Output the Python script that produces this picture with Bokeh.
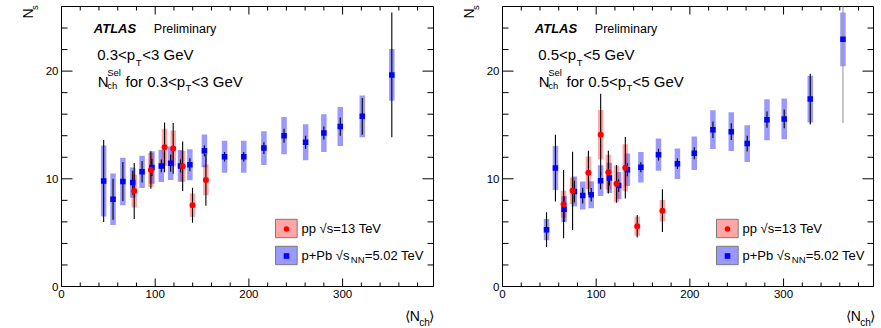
import math
from bokeh.plotting import figure
from bokeh.models import (Range1d, SingleIntervalTicker, Label, GridBox,
                          Legend, LegendItem, ColumnDataSource, BoxAnnotation)
from bokeh.embed import file_html
from bokeh.resources import INLINE

FONT = "Liberation Sans"

# ---------------- data: left panel (0.3<pT<3 GeV) ----------------
l_ppb_x = [45, 55, 65.5, 76, 86, 96.5, 106.5, 116.5, 127, 137, 152.5, 174, 194.5,
           216, 237.5, 260.5, 280, 297.5, 321, 352.5]
l_ppb_y = [9.8, 8.1, 9.75, 9.65, 10.65, 11.05, 11.2, 11.45, 11.2, 11.3, 12.6, 12.05,
           12.05, 12.85, 14.0, 13.4, 14.25, 14.85, 15.8, 19.65]
l_ppb_stat = [3.8, 1.9, 1.8, 1.1, 1.0, 0.8, 0.6, 0.8, 0.6, 0.6, 0.5, 0.45, 0.45,
              0.55, 0.65, 0.6, 0.6, 0.85, 1.7, 5.8]
l_ppb_syst = [3.3, 2.4, 2.2, 1.4, 1.5, 1.5, 1.5, 1.55, 1.47, 1.44, 1.52, 1.48, 1.48,
              1.56, 1.73, 1.67, 1.75, 1.81, 1.93, 2.41]

l_pp_x = [77.6, 95.4, 110, 119.2, 129.3, 139.8, 154.1]
l_pp_y = [8.87, 10.82, 12.92, 12.82, 11.16, 7.54, 9.9]
l_pp_stat = [2.6, 1.75, 2.3, 2.36, 2.3, 1.62, 2.4]
l_pp_syst = [1.53, 1.58, 1.72, 1.66, 1.44, 1.09, 1.42]

# ---------------- data: right panel (0.5<pT<5 GeV) ----------------
r_ppb_x = [47, 56.5, 65.7, 76.7, 85.6, 94.7, 104.7, 114.1, 124, 133.3, 147.7, 166.5,
           186.7, 204.7, 224.6, 244.2, 261.2, 282.3, 300.7, 328.5, 363.4]
r_ppb_y = [5.28, 11.0, 7.18, 8.83, 8.44, 8.52, 9.83, 10.08, 9.37, 10.84, 11.08, 12.24,
           11.4, 12.37, 14.56, 14.38, 13.27, 15.49, 15.56, 17.4, 22.95]
r_ppb_stat = [1.62, 3.1, 1.2, 1.0, 0.74, 0.62, 0.8, 0.7, 0.6, 0.6, 0.46, 0.54, 0.5,
              0.55, 0.77, 0.77, 0.73, 0.76, 0.87, 2.35, 7.76]
r_ppb_syst = [0.99, 2.04, 1.19, 1.39, 1.3, 1.25, 1.42, 1.4, 1.27, 1.5, 1.42, 1.5, 1.42,
              1.55, 1.8, 1.8, 1.7, 1.9, 1.89, 2.16, 2.5]

r_pp_x = [65.2, 74.8, 91.7, 104.8, 113, 121.7, 131.1, 143.8, 170.7]
r_pp_y = [7.64, 8.88, 10.56, 14.1, 10.62, 9.53, 11.02, 5.6, 7.04]
r_pp_stat = [3.17, 3.63, 2.05, 3.8, 1.98, 1.75, 2.86, 1.05, 1.98]
r_pp_syst = [1.24, 1.22, 1.5, 2.3, 1.62, 1.7, 2.18, 0.89, 1.0]

legend_labels = ["pp √s=13 TeV", "p+Pb √s"]

x_major_ticks = [0, 100, 200, 300]
y_major_ticks = [0, 10, 20]
x_ticks_interval = 100
y_ticks_interval = 10

Y_MAX = 26.0
HEIGHT = 328
TOP = 6          # frame top (px)
BOTTOM = 286     # frame bottom (px)
FRAME_H = BOTTOM - TOP

BLUE = "#0000ff"
RED = "#ff0000"


def src(x, y, stat, syst, last_grey=False):
    colors = ["#000000"] * len(x)
    if last_grey:
        colors[-1] = "#9a9a9a"
    return ColumnDataSource(dict(
        x=x, y=y,
        lo=[v - s for v, s in zip(y, stat)],
        hi=[v + s for v, s in zip(y, stat)],
        h=[2 * s for s in syst],
        c=colors,
    ))


def style_axis(ax):
    ax.axis_label = None
    ax.axis_line_color = "black"
    ax.axis_line_width = 1
    ax.major_tick_in = 0
    ax.major_tick_out = 0
    ax.minor_tick_in = 0
    ax.minor_tick_out = 0
    ax.major_label_text_font = FONT
    ax.major_label_text_color = "black"
    ax.major_label_text_font_size = "11.5px"
    ax.major_label_standoff = 3


def make_panel(width, bl, br, x_end, ppb, pp, pt_lo, pt_hi, last_grey):
    frame_w = width - bl - br
    sx = frame_w / x_end
    sy = FRAME_H / Y_MAX

    def fx(dx):
        return dx / sx

    def fy(py):
        return (BOTTOM - py) / sy

    p = figure(width=width, height=HEIGHT, x_range=Range1d(0, x_end),
               y_range=Range1d(0, Y_MAX), output_backend="svg",
               toolbar_location=None, min_border_left=bl, min_border_right=br,
               min_border_top=TOP, min_border_bottom=HEIGHT - BOTTOM)
    p.xgrid.visible = False
    p.ygrid.visible = False
    p.outline_line_color = "black"
    p.outline_line_width = 1
    p.background_fill_color = "white"
    p.border_fill_color = "white"

    p.xaxis.ticker = SingleIntervalTicker(interval=x_ticks_interval, num_minor_ticks=5)
    p.yaxis.ticker = SingleIntervalTicker(interval=y_ticks_interval, num_minor_ticks=5)
    style_axis(p.xaxis[0])
    style_axis(p.yaxis[0])

    # inward ROOT-style ticks on all four sides
    x_minor = [t for t in range(0, int(x_end) + 1, x_ticks_interval // 5) if t % x_ticks_interval]
    y_minor = [t for t in range(0, int(Y_MAX) + 1, y_ticks_interval // 5) if t % y_ticks_interval]
    tk = dict(length_units="screen", line_color="black", line_width=1)
    p.ray(x=[0] * len(y_major_ticks), y=y_major_ticks, length=11, angle=0, **tk)
    p.ray(x=[0] * len(y_minor), y=y_minor, length=6, angle=0, **tk)
    p.ray(x=[x_end] * len(y_major_ticks), y=y_major_ticks, length=11, angle=math.pi, **tk)
    p.ray(x=[x_end] * len(y_minor), y=y_minor, length=6, angle=math.pi, **tk)
    p.ray(x=x_major_ticks, y=[0] * len(x_major_ticks), length=8, angle=math.pi / 2, **tk)
    p.ray(x=x_minor, y=[0] * len(x_minor), length=4, angle=math.pi / 2, **tk)
    p.ray(x=x_major_ticks, y=[Y_MAX] * len(x_major_ticks), length=8, angle=-math.pi / 2, **tk)
    p.ray(x=x_minor, y=[Y_MAX] * len(x_minor), length=4, angle=-math.pi / 2, **tk)

    s_ppb = src(*ppb, last_grey=last_grey)
    s_pp = src(*pp)

    p.rect(x="x", y="y", width=5.5, width_units="screen", height="h", source=s_ppb,
           fill_color=BLUE, fill_alpha=0.4, line_color=None)
    p.rect(x="x", y="y", width=5.5, width_units="screen", height="h", source=s_pp,
           fill_color=RED, fill_alpha=0.35, line_color=None)
    p.segment(x0="x", y0="lo", x1="x", y1="hi", source=s_ppb, line_color="c", line_width=1.1)
    p.segment(x0="x", y0="lo", x1="x", y1="hi", source=s_pp, line_color="c", line_width=1.1)
    m_ppb = p.scatter(x="x", y="y", source=s_ppb, marker="square", size=5.5,
                      fill_color=BLUE, line_color=None)
    m_pp = p.scatter(x="x", y="y", source=s_pp, marker="circle", size=6,
                     fill_color=RED, line_color=None)

    # legend swatch boxes (behind the legend markers)
    for (y0, y1), col, alpha in (((218.8, 237.2), RED, 0.35), ((245.8, 264.2), BLUE, 0.4)):
        p.add_layout(BoxAnnotation(left=fx(214), right=fx(235.7), top=fy(y0), bottom=fy(y1),
                                   fill_color=col, fill_alpha=alpha,
                                   line_color="#7a7a7a", line_alpha=1, line_width=1))

    leg = Legend(items=[LegendItem(label=legend_labels[0], renderers=[m_pp]),
                        LegendItem(label=legend_labels[1], renderers=[m_ppb])],
                 location=(217.5, 19.5), glyph_width=14, glyph_height=23,
                 label_height=23, spacing=4, label_standoff=9, padding=0, margin=0,
                 border_line_color=None, background_fill_alpha=0,
                 label_text_font=FONT, label_text_font_size="13px",
                 label_text_color="black")
    p.add_layout(leg)

    def lab(text, dx, py, size, style="normal", baseline="alphabetic"):
        p.add_layout(Label(x=fx(dx), y=fy(py), text=text, text_font=FONT,
                           text_font_size=size, text_font_style=style,
                           text_color="black", text_baseline=baseline,
                           text_align="left"))

    lab("NN", 289.3, 259, "9.5px", baseline="middle")
    lab("=5.02 TeV", 303.3, 255, "13px", baseline="middle")

    lab("ATLAS", 32.3, 28.3, "13px", style="bold italic")
    lab("Preliminary", 92.3, 28.3, "12.5px")
    lab(f"{pt_lo}<p", 35.7, 54, "15px")
    lab("T", 74.2, 61.5, "9.5px")
    lab(f"<{pt_hi} GeV", 80.7, 54, "15px")
    lab("N", 36.3, 80.7, "15px")
    lab("Sel", 45.7, 71.5, "9.5px")
    lab("ch", 45.7, 85, "9.5px")
    lab(f"for {pt_lo}<p", 64, 80.7, "15px")
    lab("T", 124, 87.3, "9.5px")
    lab(f"<{pt_hi} GeV", 130, 80.7, "15px")

    # transparent overlay canvas (pixel coordinates) for the axis titles,
    # which sit outside the plotting frame
    ov = figure(width=width, height=HEIGHT, x_range=Range1d(0, width),
                y_range=Range1d(HEIGHT, 0), output_backend="svg",
                toolbar_location=None, x_axis_type=None, y_axis_type=None,
                min_border=0, min_border_left=0, min_border_right=0,
                min_border_top=0, min_border_bottom=0)
    try:
        ov.frame_align = False
    except Exception:
        pass
    ov.xgrid.visible = False
    ov.ygrid.visible = False
    ov.outline_line_color = None
    ov.background_fill_color = None
    ov.border_fill_color = None

    def olab(text, dx, py, size, angle=0.0):
        ov.add_layout(Label(x=bl + dx, y=py, text=text, text_font=FONT,
                            text_font_size=size, text_color="black",
                            text_baseline="alphabetic", text_align="left",
                            angle=angle))

    olab("N", -34, 18, "14px", angle=math.pi / 2)
    olab("s", -27.5, 9.5, "9.5px", angle=math.pi / 2)
    olab("⟨", 343.3, 315.5, "14px")
    olab("N", 348.3, 315.5, "14px")
    olab("ch", 357.7, 322, "10px")
    olab("⟩", 367.3, 315.5, "14px")
    return p, ov


p1, o1 = make_panel(440, 61, 7, 397,
                    (l_ppb_x, l_ppb_y, l_ppb_stat, l_ppb_syst),
                    (l_pp_x, l_pp_y, l_pp_stat, l_pp_syst), "0.3", "3", False)
p2, o2 = make_panel(441, 62, 8, 396,
                    (r_ppb_x, r_ppb_y, r_ppb_stat, r_ppb_syst),
                    (r_pp_x, r_pp_y, r_pp_stat, r_pp_syst), "0.5", "5", True)

p = GridBox(children=[(p1, 0, 0), (o1, 0, 0), (p2, 0, 1), (o2, 0, 1)], spacing=0)
open("out.html", "w").write(file_html(p, INLINE))
